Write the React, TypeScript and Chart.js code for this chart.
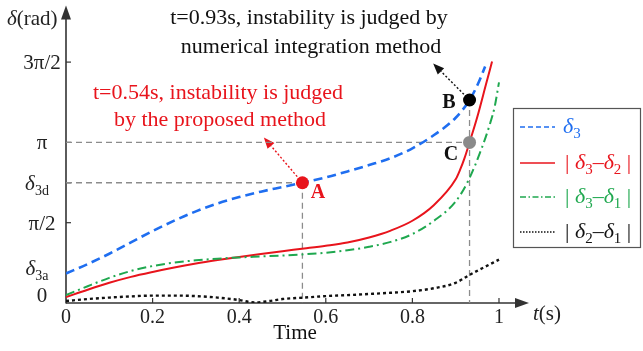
import React, { useEffect, useRef } from 'react';
import { Chart, registerables } from 'chart.js';
Chart.register(...registerables);

const PI = Math.PI;
// key values (rad)
const delta3a = 0.578;
const delta3d = 2.352;
const tA = 0.546;
const tB = 0.932;
const deltaB = 3.971;

// δ3
const tBlue = [0, 0.05, 0.1, 0.15, 0.2, 0.25, 0.3, 0.35, 0.4, 0.45, 0.5, 0.546, 0.6, 0.65, 0.7, 0.75, 0.8, 0.85, 0.9, 0.932, 0.95, 0.968];
const vBlue = [0.578, 0.761, 0.964, 1.186, 1.407, 1.610, 1.793, 1.947, 2.072, 2.178, 2.269, 2.352, 2.458, 2.574, 2.699, 2.834, 3.026, 3.286, 3.624, 3.971, 4.260, 4.626];
// |δ3-δ2|
const tRed = [0, 0.05, 0.1, 0.15, 0.2, 0.25, 0.3, 0.35, 0.4, 0.45, 0.5, 0.55, 0.6, 0.65, 0.7, 0.75, 0.8, 0.85, 0.9, 0.91, 0.92, 0.932, 0.95, 0.97, 0.984];
const vRed = [0.116, 0.260, 0.395, 0.511, 0.607, 0.694, 0.771, 0.839, 0.902, 0.960, 1.014, 1.066, 1.120, 1.184, 1.282, 1.417, 1.609, 1.918, 2.419, 2.602, 2.824, 3.142, 3.643, 4.279, 4.722];
// |δ3-δ1|
const tGreen = [0, 0.05, 0.1, 0.15, 0.2, 0.25, 0.3, 0.35, 0.4, 0.45, 0.5, 0.55, 0.6, 0.65, 0.7, 0.75, 0.8, 0.85, 0.9, 0.93, 0.96, 0.98, 0.99, 1.0];
const vGreen = [0.154, 0.328, 0.492, 0.627, 0.723, 0.790, 0.835, 0.867, 0.891, 0.910, 0.929, 0.952, 0.983, 1.031, 1.099, 1.195, 1.349, 1.609, 1.985, 2.409, 3.026, 3.527, 3.836, 4.317];
// |δ2-δ1|
const tBlack = [0, 0.05, 0.1, 0.15, 0.2, 0.25, 0.3, 0.35, 0.4, 0.435, 0.47, 0.5, 0.55, 0.6, 0.65, 0.7, 0.75, 0.8, 0.85, 0.9, 0.93, 0.96, 1.0];
const vBlack = [0.039, 0.077, 0.106, 0.129, 0.145, 0.145, 0.135, 0.106, 0.058, 0.01, 0.039, 0.077, 0.106, 0.135, 0.154, 0.176, 0.200, 0.231, 0.289, 0.395, 0.54, 0.675, 0.848];

const xTicks = [0, 0.2, 0.4, 0.6, 0.8, 1];
const xTickLabels = ['0', '0.2', '0.4', '0.6', '0.8', '1'];
const yTicks = [0, delta3a, PI / 2, delta3d, PI, 1.5 * PI];

// annotation arrow tips (data units)
const redArrowTip = { x: 0.457, y: 3.238 };
const blackArrowTip = { x: 0.848, y: 4.684 };

const BLUE = '#1f6ef0';
const RED = '#e8141c';
const GREEN = '#1fa84f';
const BLACK = '#111111';
const GREY = '#8c8c8c';
const AXIS = '#333333';
const SERIF = '"Liberation Serif", "Times New Roman", serif';

type Part = { t: string; it?: boolean; sub?: boolean; bold?: boolean };

function fontOf(size: number, p: Part) {
  const s = p.sub ? Math.round(size * 0.66) : size;
  return `${p.it ? 'italic ' : ''}${p.bold ? 'bold ' : ''}${s}px ${SERIF}`;
}

function drawRich(ctx: CanvasRenderingContext2D, x: number, y: number, parts: Part[], size: number, color: string, align: 'left' | 'center' | 'right' = 'left') {
  ctx.save();
  ctx.textBaseline = 'alphabetic';
  ctx.textAlign = 'left';
  ctx.fillStyle = color;
  const widths = parts.map((p) => {
    ctx.font = fontOf(size, p);
    return ctx.measureText(p.t).width;
  });
  const w = widths.reduce((a, b) => a + b, 0);
  let cx = align === 'left' ? x : align === 'center' ? x - w / 2 : x - w;
  parts.forEach((p, i) => {
    ctx.font = fontOf(size, p);
    ctx.fillText(p.t, cx, p.sub ? y + size * 0.24 : y);
    cx += widths[i];
  });
  ctx.restore();
}

const yLabelParts: Part[][] = [
  [{ t: '0' }],
  [{ t: 'δ', it: true }, { t: '3a', sub: true }],
  [{ t: 'π/2' }],
  [{ t: 'δ', it: true }, { t: '3d', sub: true }],
  [{ t: 'π' }],
  [{ t: '3π/2' }],
];

function arrow(ctx: CanvasRenderingContext2D, x0: number, y0: number, x1: number, y1: number, color: string) {
  const ang = Math.atan2(y1 - y0, x1 - x0);
  const hl = 11;
  const hw = 4.5;
  const bx = x1 - hl * Math.cos(ang);
  const by = y1 - hl * Math.sin(ang);
  ctx.save();
  ctx.strokeStyle = color;
  ctx.lineWidth = 1.4;
  ctx.setLineDash([2, 2]);
  ctx.beginPath();
  ctx.moveTo(x0, y0);
  ctx.lineTo(bx, by);
  ctx.stroke();
  ctx.setLineDash([]);
  ctx.fillStyle = color;
  ctx.beginPath();
  ctx.moveTo(x1, y1);
  ctx.lineTo(bx + hw * Math.sin(ang), by - hw * Math.cos(ang));
  ctx.lineTo(bx - hw * Math.sin(ang), by + hw * Math.cos(ang));
  ctx.closePath();
  ctx.fill();
  ctx.restore();
}

const decorPlugin = {
  id: 'decor',
  beforeDatasetsDraw(chart: any) {
    const ctx: CanvasRenderingContext2D = chart.ctx;
    const xs = chart.scales.x;
    const ys = chart.scales.y;
    const { left, right, top, bottom } = chart.chartArea;
    ctx.save();
    ctx.strokeStyle = AXIS;
    ctx.fillStyle = AXIS;
    ctx.lineWidth = 1.6;
    ctx.beginPath();
    ctx.moveTo(left, bottom + 0.5);
    ctx.lineTo(left, top + 10);
    ctx.stroke();
    ctx.beginPath();
    ctx.moveTo(left, top - 1);
    ctx.lineTo(left - 5, top + 13);
    ctx.lineTo(left + 5, top + 13);
    ctx.closePath();
    ctx.fill();
    ctx.beginPath();
    ctx.moveTo(left, bottom);
    ctx.lineTo(right - 8, bottom);
    ctx.stroke();
    ctx.beginPath();
    ctx.moveTo(right + 1, bottom);
    ctx.lineTo(right - 13, bottom - 5);
    ctx.lineTo(right - 13, bottom + 5);
    ctx.closePath();
    ctx.fill();
    ctx.lineWidth = 1.2;
    xTicks.forEach((v) => {
      if (v === 0) return;
      const px = xs.getPixelForValue(v);
      ctx.beginPath();
      ctx.moveTo(px, bottom);
      ctx.lineTo(px, bottom - 5);
      ctx.stroke();
    });
    [PI / 2, delta3d, PI, 1.5 * PI].forEach((v) => {
      const py = ys.getPixelForValue(v);
      ctx.beginPath();
      ctx.moveTo(left, py);
      ctx.lineTo(left + 5, py);
      ctx.stroke();
    });
    ctx.restore();
    arrow(ctx, xs.getPixelForValue(tA), ys.getPixelForValue(delta3d), xs.getPixelForValue(redArrowTip.x), ys.getPixelForValue(redArrowTip.y), RED);
    arrow(ctx, xs.getPixelForValue(tB), ys.getPixelForValue(deltaB), xs.getPixelForValue(blackArrowTip.x), ys.getPixelForValue(blackArrowTip.y), BLACK);
  },
  afterDraw(chart: any) {
    const ctx: CanvasRenderingContext2D = chart.ctx;
    const xs = chart.scales.x;
    const ys = chart.scales.y;
    const { right, bottom } = chart.chartArea;
    xTicks.forEach((v, i) => {
      drawRich(ctx, xs.getPixelForValue(v), bottom + 20, [{ t: xTickLabels[i] }], 20, '#222', 'center');
    });
    yTicks.forEach((v, i) => {
      let py = ys.getPixelForValue(v) + 7;
      if (i === 0) py -= 8;
      if (i === 1) py -= 5;
      const isDelta = i === 1 || i === 3;
      drawRich(ctx, isDelta ? 37 : 42, py, yLabelParts[i], 21, '#222', 'center');
    });
    drawRich(ctx, 7, 25, [{ t: 'δ', it: true }, { t: '(rad)' }], 21, '#222', 'left');
    drawRich(ctx, right + 5, bottom + 17, [{ t: 't', it: true }, { t: '(s)' }], 21, '#222', 'left');
    drawRich(ctx, 295, bottom + 36, [{ t: 'Time' }], 21, '#111', 'center');
    drawRich(ctx, 309, 24, [{ t: 't=0.93s, instability is judged by' }], 22, '#111', 'center');
    drawRich(ctx, 311, 53, [{ t: 'numerical integration method' }], 22, '#111', 'center');
    drawRich(ctx, 218, 99, [{ t: 't=0.54s, instability is judged' }], 22, RED, 'center');
    drawRich(ctx, 220, 126, [{ t: 'by the proposed method' }], 22, RED, 'center');
    drawRich(ctx, 318, 198, [{ t: 'A', bold: true }], 20, RED, 'center');
    drawRich(ctx, 449, 108, [{ t: 'B', bold: true }], 20, '#111', 'center');
    drawRich(ctx, 451, 160, [{ t: 'C', bold: true }], 20, '#111', 'center');
    ctx.save();
    ctx.fillStyle = '#fff';
    ctx.fillRect(513, 108, 127, 139);
    ctx.strokeStyle = '#555';
    ctx.lineWidth = 1.2;
    ctx.strokeRect(513.5, 108.5, 127, 139);
    const rows = [
      { c: BLUE, dash: [5, 3], w: 1.6, parts: [{ t: 'δ', it: true }, { t: '3', sub: true }] as Part[], x: 563 },
      { c: RED, dash: [], w: 1.6, parts: [{ t: '| ' }, { t: 'δ', it: true }, { t: '3', sub: true }, { t: '–' }, { t: 'δ', it: true }, { t: '2', sub: true }, { t: ' |' }] as Part[], x: 565 },
      { c: GREEN, dash: [6, 2.5, 1.5, 2.5], w: 1.5, parts: [{ t: '| ' }, { t: 'δ', it: true }, { t: '3', sub: true }, { t: '–' }, { t: 'δ', it: true }, { t: '1', sub: true }, { t: ' |' }] as Part[], x: 565 },
      { c: BLACK, dash: [1.5, 1.5], w: 1.5, parts: [{ t: '| ' }, { t: 'δ', it: true }, { t: '2', sub: true }, { t: '–' }, { t: 'δ', it: true }, { t: '1', sub: true }, { t: ' |' }] as Part[], x: 565 },
    ];
    const rowY = [127, 163, 197, 232];
    rows.forEach((r, i) => {
      ctx.strokeStyle = r.c;
      ctx.lineWidth = r.w;
      ctx.setLineDash(r.dash);
      ctx.beginPath();
      ctx.moveTo(520, rowY[i]);
      ctx.lineTo(555, rowY[i]);
      ctx.stroke();
      ctx.setLineDash([]);
      drawRich(ctx, r.x, rowY[i] + 6, r.parts, 22, i === 3 ? '#111' : r.c, 'left');
    });
    ctx.restore();
  },
};

function pts(t: number[], v: number[]) {
  return t.map((x, i) => ({ x, y: v[i] }));
}

export default function App() {
  const ref = useRef<HTMLCanvasElement | null>(null);
  useEffect(() => {
    if (!ref.current) return;
    const guide = (data: { x: number; y: number }[]) => ({
      data,
      showLine: true,
      borderColor: GREY,
      borderWidth: 1.3,
      borderDash: [6, 4],
      pointRadius: 0,
      fill: false,
    });
    const curve = (data: { x: number; y: number }[], color: string, width: number, dash: number[]) => ({
      data,
      showLine: true,
      borderColor: color,
      borderWidth: width,
      borderDash: dash,
      pointRadius: 0,
      fill: false,
      cubicInterpolationMode: 'monotone' as const,
    });
    const point = (x: number, y: number, color: string) => ({
      data: [{ x, y }],
      showLine: false,
      pointRadius: 6.5,
      pointBackgroundColor: color,
      pointBorderColor: color,
      pointBorderWidth: 0,
    });
    const chart = new Chart(ref.current, {
      type: 'scatter',
      data: {
        datasets: [
          point(tA, delta3d, RED),
          point(tB, deltaB, '#000'),
          point(tB, PI, '#8a8a8a'),
          curve(pts(tBlack, vBlack), BLACK, 2.4, [3, 3]),
          curve(pts(tGreen, vGreen), GREEN, 2, [9, 4, 2, 4]),
          curve(pts(tRed, vRed), RED, 2, []),
          curve(pts(tBlue, vBlue), BLUE, 2.6, [9, 5]),
          guide([{ x: 0, y: PI }, { x: tB, y: PI }]),
          guide([{ x: 0, y: delta3d }, { x: tA, y: delta3d }]),
          guide([{ x: tA, y: delta3d }, { x: tA, y: 0 }]),
          guide([{ x: tB, y: deltaB }, { x: tB, y: 0 }]),
        ] as any,
      },
      options: {
        animation: false,
        responsive: false,
        events: [],
        layout: { padding: { left: 66, right: 115, top: 2, bottom: 48 } },
        scales: {
          x: { type: 'linear', display: false, min: 0, max: 1.067 },
          y: { type: 'linear', display: false, min: 0, max: 5.8 },
        },
        plugins: { legend: { display: false }, tooltip: { enabled: false } },
      },
      plugins: [decorPlugin],
    });
    return () => chart.destroy();
  }, []);
  return (
    <div style={{ position: 'fixed', left: 0, top: 0, width: 643, height: 351, background: '#fff' }}>
      <canvas ref={ref} width={643} height={351} style={{ display: 'block', width: 643, height: 351 }} />
    </div>
  );
}
